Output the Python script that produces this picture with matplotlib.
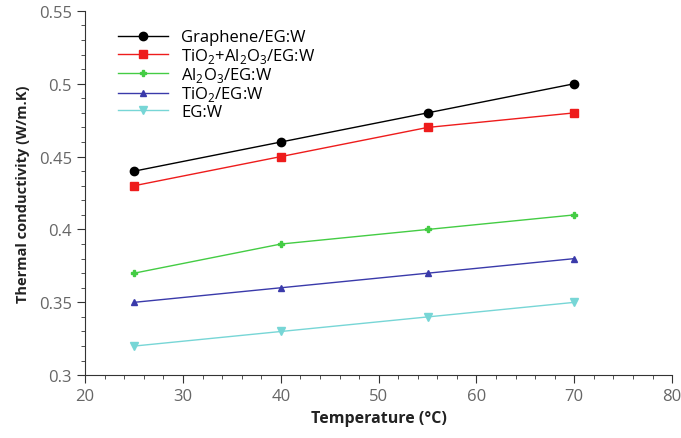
import matplotlib
matplotlib.use("Agg")
import matplotlib.pyplot as plt
from matplotlib.ticker import MultipleLocator

plt.rcParams['font.family'] = ['Open Sans', 'DejaVu Sans']
plt.rcParams['mathtext.fontset'] = 'custom'
plt.rcParams['mathtext.rm'] = 'Open Sans'

temperature = [25, 40, 55, 70]
graphene = [0.44, 0.46, 0.48, 0.50]
tio2_al2o3 = [0.43, 0.45, 0.47, 0.48]
al2o3 = [0.37, 0.39, 0.40, 0.41]
tio2 = [0.35, 0.36, 0.37, 0.38]
egw = [0.32, 0.33, 0.34, 0.35]

labels = ["Graphene/EG:W", "TiO$_2$+Al$_2$O$_3$/EG:W", "Al$_2$O$_3$/EG:W",
          "TiO$_2$/EG:W", "EG:W"]

fig = plt.figure(figsize=(6.81, 4.39), dpi=100)
ax = fig.add_axes([0.125, 0.143, 0.862, 0.83])

ax.plot(temperature, graphene, color='black', marker='o', markersize=6, lw=1, label=labels[0])
ax.plot(temperature, tio2_al2o3, color='#ee1c1c', marker='s', markersize=6, lw=1, label=labels[1])
ax.plot(temperature, al2o3, color='#44cc44', marker='P', markersize=5, lw=1, label=labels[2])
ax.plot(temperature, tio2, color='#3a3aaa', marker='^', markersize=5, lw=1, label=labels[3])
ax.plot(temperature, egw, color='#77d6d6', marker='v', markersize=6, lw=1, label=labels[4])

ax.set_xlim(20, 80)
ax.set_ylim(0.3, 0.55)
ax.xaxis.set_major_locator(MultipleLocator(10))
ax.xaxis.set_minor_locator(MultipleLocator(2))
ax.yaxis.set_major_locator(MultipleLocator(0.05))
ax.yaxis.set_minor_locator(MultipleLocator(0.01))
ax.set_yticks([0.3, 0.35, 0.4, 0.45, 0.5, 0.55])
ax.set_yticklabels(['0.3', '0.35', '0.4', '0.45', '0.5', '0.55'])

for s in ['top', 'right']:
    ax.spines[s].set_visible(False)
for s in ['left', 'bottom']:
    ax.spines[s].set_color('#333333')
ax.tick_params(which='major', direction='out', length=6, color='#333333', labelsize=12, labelcolor='#666666')
ax.tick_params(which='minor', direction='out', length=3, color='#333333')

ax.set_xlabel('Temperature (°C)', fontsize=11.5, fontweight='bold', color='#222222')
ax.set_ylabel('Thermal conductivity (W/m.K)', fontsize=10.5, fontweight='bold', color='#222222', labelpad=6)

ax.legend(loc='upper left', bbox_to_anchor=(0.03, 0.99), frameon=False, fontsize=12,
          handlelength=3, labelspacing=0.02, handletextpad=0.8)

fig.savefig('out.png', dpi=100)
